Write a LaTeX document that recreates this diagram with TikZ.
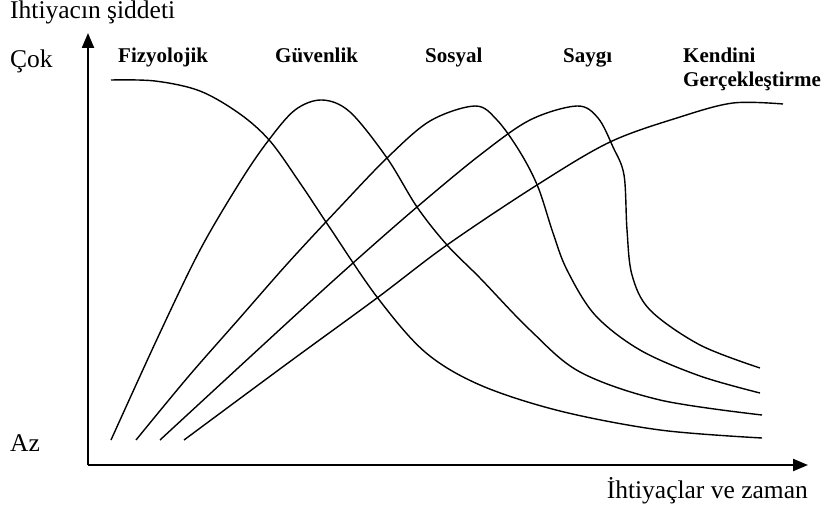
\documentclass[tikz,border=0pt]{standalone}
\usepackage{fontspec}
\setmainfont{Liberation Serif}
\usepackage{tikz}
\usetikzlibrary{arrows.meta,positioning}

\tikzset{
	axis/.style={line width=2.2pt,-{Triangle[length=15pt,width=12pt]}},
	need/.style={line width=1.4pt,smooth,tension=0.55},
	lab/.style={font=\fontsize{25.5}{27}\selectfont,inner sep=0pt},
	kind/.style={font=\fontsize{21}{23}\selectfont\bfseries,inner sep=0pt,anchor=base west}
}

\begin{document}
\begin{tikzpicture}[x=1pt,y=-1pt]
		\useasboundingbox (0,0) rectangle (826,511);
		% eksenler
		\coordinate (O) at (88,465);
		\coordinate (ytip) at (88,33);
		\coordinate (xtip) at (808,465);
		\draw[axis] (O) -- (ytip);
		\draw[axis] (O) -- (xtip);
		\node[lab,anchor=base west] (ylab) at (10,19) {Ihtiyacın şiddeti};
		\node[lab,anchor=base west] (cok) at (10,67) {Çok};
		\node[lab,anchor=base west] (az) at (10,451) {Az};
		\node[lab,anchor=base east] (xlab) at (808,498) {İhtiyaçlar ve zaman};
		% basamaklar
		\node[kind] (fiz) at (118,63) {Fizyolojik};
		\node[kind] (guv) at (275,63) {Güvenlik};
		\node[kind] (sos) at (425,63) {Sosyal};
		\node[kind] (say) at (563,63) {Saygı};
		\node[kind] (ken) at (683,63) {Kendini};
		\node[kind] (ger) at (683,86) {Gerçekleştirme};
		% egriler
		\draw[need] plot coordinates {(111,80) (155,81) (200,91) (240,114) (270,141) (300,183) (330,228) (377,297) (425,352) (480,385) (560,411) (660,430) (762,438)};
		\draw[need] plot coordinates {(111,440) (158,337) (200,250) (240,182) (268,141) (295,110) (322,100) (350,112) (387,158) (417,207) (447,245) (480,278) (530,330) (580,372) (660,400) (762,415)};
		\draw[need] plot coordinates {(136,440) (188,377) (238,320) (288,263) (340,207) (387,158) (430,121) (475,106) (497,120) (520,152) (538,187) (553,233) (567,270) (595,315) (640,350) (700,376) (760,393)};
		\draw[need] plot coordinates {(160,440) (288,322) (353,263) (417,207) (480,155) (530,120) (577,106) (598,118) (613,147) (624,175) (627,230) (632,275) (650,310) (700,345) (760,368)};
		\draw[need] plot coordinates {(184,440) (288,363) (377,298) (447,245) (537,185) (610,142) (680,117) (733,103) (783,104)};
\end{tikzpicture}
\end{document}
